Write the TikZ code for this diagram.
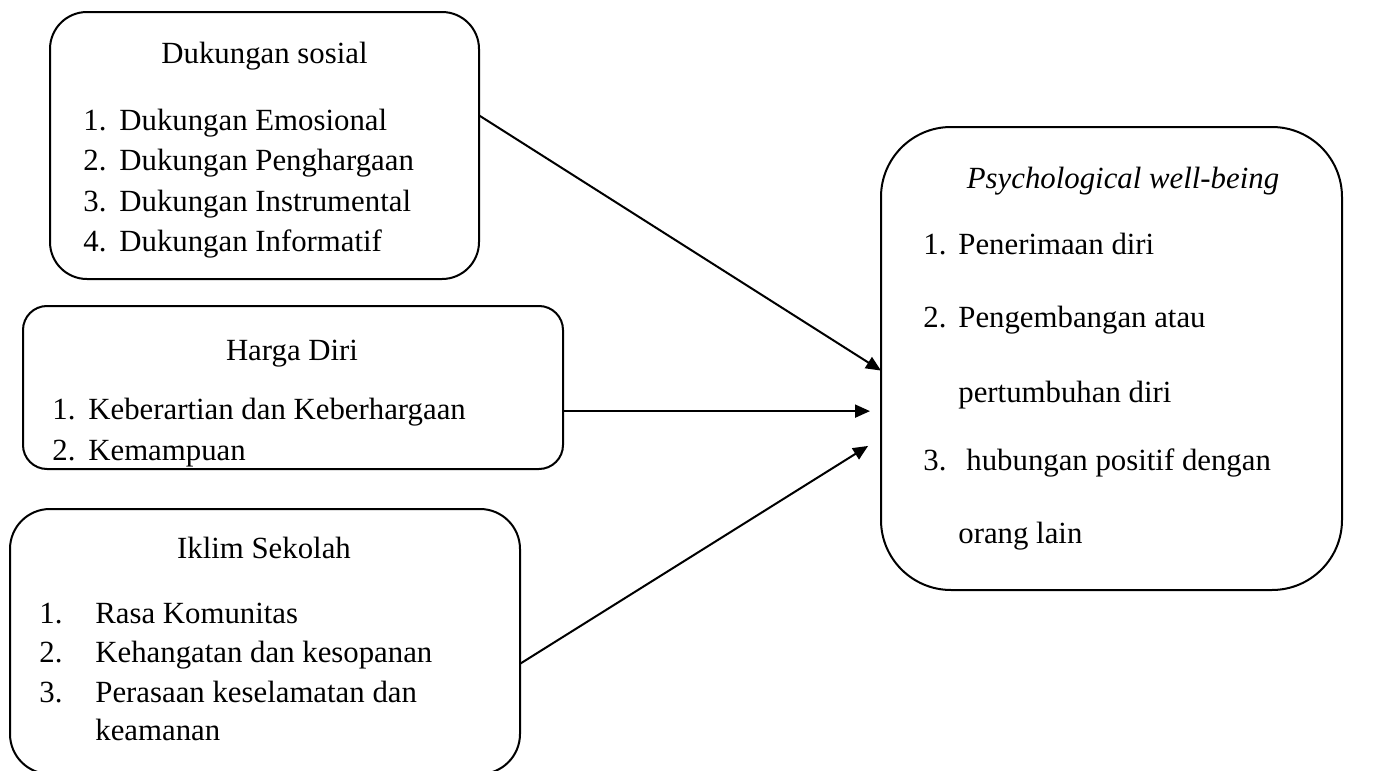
\documentclass[tikz,border=0pt]{standalone}
\usepackage{fontspec}
\setmainfont{Liberation Serif}
\usetikzlibrary{arrows.meta}
\newcommand{\itemNo}[2]{\makebox[#1][l]{#2}}

\begin{document}
\begin{tikzpicture}[x=0.5pt, y=-0.5pt,
    boxStyle/.style={draw, line width=1pt, rectangle, outer sep=0pt, inner sep=0pt},
    textStyle/.style={anchor=base west, inner sep=0pt, font=\fontsize{15.4}{18}\selectfont},
    titleStyle/.style={textStyle, anchor=base},
    arrowStyle/.style={-{Triangle[length=7.5pt, width=6.5pt]}, line width=1pt}]
    \useasboundingbox (0,0) rectangle (1373,771);

    % boxes
    \node[boxStyle, rounded corners=18.5pt, minimum width=214.5pt, minimum height=133.5pt](sosial) at (264.5, 145.5) {};
    \node[boxStyle, rounded corners=12pt, minimum width=270pt, minimum height=81.5pt](harga) at (293, 387.5) {};
    \node[boxStyle, rounded corners=20pt, minimum width=255pt, minimum height=132.5pt](iklim) at (265, 641.5) {};
    \node[boxStyle, rounded corners=35pt, minimum width=230.5pt, minimum height=231.5pt](pwb) at (1111.5, 358.5) {};

    % Dukungan sosial
    \node[titleStyle](s0) at (264.5, 63) {Dukungan sosial};
    \node[textStyle](s1) at (83, 130) {\itemNo{18pt}{1.}Dukungan Emosional};
    \node[textStyle](s2) at (83, 170) {\itemNo{18pt}{2.}Dukungan Penghargaan};
    \node[textStyle](s3) at (83, 211) {\itemNo{18pt}{3.}Dukungan Instrumental};
    \node[textStyle](s4) at (83, 251) {\itemNo{18pt}{4.}Dukungan Informatif};

    % Harga Diri
    \node[titleStyle](h0) at (292, 360) {Harga Diri};
    \node[textStyle](h1) at (52, 419) {\itemNo{18pt}{1.}Keberartian dan Keberhargaan};
    \node[textStyle](h2) at (52, 460) {\itemNo{18pt}{2.}Kemampuan};

    % Iklim Sekolah
    \node[titleStyle](i0) at (264, 558) {Iklim Sekolah};
    \node[textStyle](i1) at (39, 623) {\itemNo{28pt}{1.}Rasa Komunitas};
    \node[textStyle](i2) at (39, 662) {\itemNo{28pt}{2.}Kehangatan dan kesopanan};
    \node[textStyle](i3) at (39, 702) {\itemNo{28pt}{3.}Perasaan keselamatan dan};
    \node[textStyle](i4) at (95, 740) {keamanan};

    % Psychological well-being
    \node[titleStyle](p0) at (1123, 188) {\itshape Psychological well-being};
    \node[textStyle](p1) at (923, 254) {\itemNo{17.5pt}{1.}Penerimaan diri};
    \node[textStyle](p2) at (923, 327) {\itemNo{17.5pt}{2.}Pengembangan atau};
    \node[textStyle](p3) at (958, 402) {pertumbuhan diri};
    \node[textStyle](p4) at (923, 470) {\itemNo{21.5pt}{3.}hubungan positif dengan};
    \node[textStyle](p5) at (958, 543) {orang lain};

    % arrows
    \draw[arrowStyle] (sosial.8) -- (pwb.183);
    \draw[arrowStyle, shorten >=5.5pt] (harga.-5) -- (harga.-5 -| pwb.west);
    \draw[arrowStyle, shorten >=7.6pt] (iklim.-5) -- (pwb.199);
\end{tikzpicture}
\end{document}
